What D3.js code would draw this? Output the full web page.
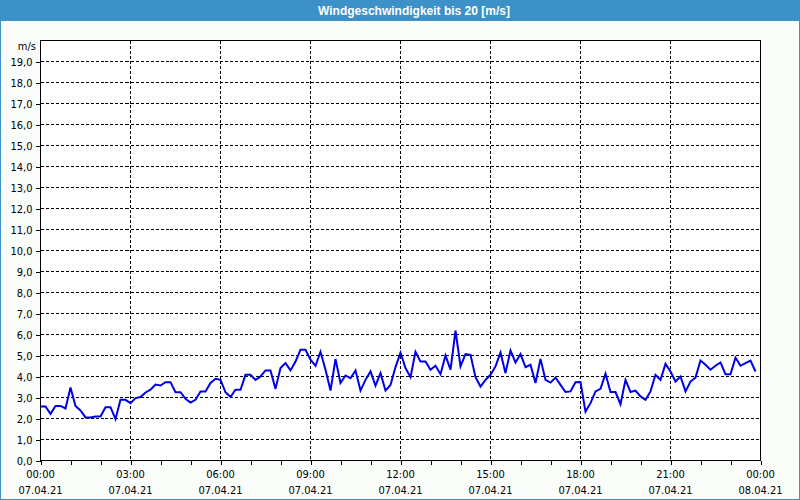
<!DOCTYPE html>
<html>
<head>
<meta charset="utf-8">
<script src="https://cdn.jsdelivr.net/npm/d3@7"></script>
<style>
  html, body { margin: 0; padding: 0; background: #fbfdfb; }
  svg { display: block; }
  text { font-family: "DejaVu Sans Condensed", "DejaVu Sans", sans-serif; font-stretch: condensed; }
  text.title { font-family: "Liberation Sans", Arial, sans-serif; font-stretch: normal; }
</style>
</head>
<body>
<svg id="chart" width="800" height="500"></svg>
<script>
const title = "Windgeschwindigkeit bis 20 [m/s]";
const unitLabel = "m/s";
// 10-minute readings of 07.04.21, starting 00:00
const stepMinutes = 10;
const windSpeed = [
  2.57, 2.57, 2.22, 2.60, 2.60, 2.48, 3.48, 2.60, 2.38, 2.05, 2.05, 2.10,
  2.10, 2.54, 2.54, 1.97, 2.89, 2.89, 2.73, 2.97, 3.02, 3.24, 3.37, 3.62,
  3.57, 3.73, 3.73, 3.25, 3.25, 2.94, 2.76, 2.89, 3.29, 3.29, 3.69, 3.89,
  3.84, 3.25, 3.02, 3.37, 3.37, 4.08, 4.08, 3.84, 4.00, 4.29, 4.29, 3.41,
  4.40, 4.64, 4.29, 4.71, 5.27, 5.27, 4.80, 4.51, 5.18, 4.32, 3.33, 4.83,
  3.69, 4.05, 3.92, 4.29, 3.33, 3.84, 4.24, 3.56, 4.16, 3.33, 3.60, 4.45,
  5.14, 4.40, 3.97, 5.18, 4.71, 4.71, 4.32, 4.51, 4.11, 5.00, 4.32, 6.19,
  4.48, 5.07, 5.03, 3.97, 3.52, 3.84, 4.08, 4.48, 5.14, 4.16, 5.24, 4.67,
  5.07, 4.45, 4.56, 3.69, 4.84, 3.84, 3.71, 3.95, 3.60, 3.26, 3.29, 3.73,
  3.74, 2.33, 2.73, 3.29, 3.41, 4.13, 3.26, 3.26, 2.68, 3.84, 3.26, 3.33,
  3.05, 2.89, 3.29, 4.08, 3.84, 4.60, 4.24, 3.76, 4.00, 3.29, 3.76, 3.95,
  4.76, 4.56, 4.32, 4.51, 4.67, 4.11, 4.11, 4.90, 4.51, 4.64, 4.76, 4.24
];
const xTickHours = [0, 3, 6, 9, 12, 15, 18, 21, 24];
const xTimeLabels = ["00:00", "03:00", "06:00", "09:00", "12:00", "15:00", "18:00", "21:00", "00:00"];
const xDateLabels = ["07.04.21", "07.04.21", "07.04.21", "07.04.21", "07.04.21", "07.04.21", "07.04.21", "07.04.21", "08.04.21"];
const xMinorHours = d3.range(0, 25);
const yTicks = d3.range(0, 20);
const yDomain = [0, 20];

(function () {
const svg = d3.select("#chart");
const W = 800, H = 500;
const pL = 40.5, pR = 760.5, pT = 40.5, pB = 460.5;

// outer frame + title bar
svg.append("rect").attr("x", 0.5).attr("y", 0.5).attr("width", W - 1).attr("height", H - 1)
  .attr("fill", "#fbfdfb").attr("stroke", "#3c91c8").attr("stroke-width", 1);
svg.append("rect").attr("x", 0).attr("y", 0).attr("width", W).attr("height", 21).attr("fill", "#3c91c8");
svg.append("text").attr("class", "title").attr("x", 414).attr("y", 15).attr("text-anchor", "middle")
  .attr("fill", "#ffffff").attr("font-size", "12px").attr("font-weight", "bold").text(title);

const x = d3.scaleLinear().domain([0, 24]).range([pL, pR]);
const y = d3.scaleLinear().domain(yDomain).range([pB, pT]);

svg.append("rect").attr("x", pL).attr("y", pT).attr("width", pR - pL).attr("height", pB - pT)
  .attr("fill", "#ffffff");

// grid
const grid = svg.append("g").attr("stroke", "#000").attr("stroke-dasharray", "3,2")
  .attr("shape-rendering", "crispEdges");
grid.selectAll("line.h").data(yTicks.filter(v => v > 0)).join("line").attr("class", "h")
  .attr("x1", pL).attr("x2", pR).attr("y1", d => y(d)).attr("y2", d => y(d));
grid.selectAll("line.v").data(xTickHours.filter(h => h > 0 && h < 24)).join("line").attr("class", "v")
  .attr("x1", d => x(d)).attr("x2", d => x(d)).attr("y1", pT).attr("y2", pB);

// y axis
const yAxis = d3.axisLeft(y).tickValues(yTicks).tickSize(5).tickPadding(3)
  .tickFormat(d => d3.format(".1f")(d).replace(".", ","));
const gy = svg.append("g").attr("transform", `translate(${pL},0)`).call(yAxis);
gy.select(".domain").remove();
gy.attr("font-family", null).attr("font-size", null);
gy.selectAll("text").attr("font-size", "11px").attr("fill", "#000");
gy.selectAll("line").attr("stroke", "#000").attr("shape-rendering", "crispEdges");

svg.append("text").attr("x", 36).attr("y", 50).attr("text-anchor", "end")
  .attr("font-size", "11px").attr("fill", "#000").text(unitLabel);

// x axis minor ticks
const xAxis = d3.axisBottom(x).tickValues(xMinorHours).tickSize(4).tickFormat("");
const gx = svg.append("g").attr("transform", `translate(0,${pB})`).call(xAxis);
gx.select(".domain").remove();
gx.selectAll("line").attr("stroke", "#000").attr("shape-rendering", "crispEdges");

const labels = svg.append("g").attr("font-size", "11px").attr("fill", "#000").attr("text-anchor", "middle");
labels.selectAll("text.t").data(xTickHours).join("text").attr("class", "t")
  .attr("x", d => x(d)).attr("y", 478).text((d, i) => xTimeLabels[i]);
labels.selectAll("text.d").data(xTickHours).join("text").attr("class", "d")
  .attr("x", d => x(d)).attr("y", 494).text((d, i) => xDateLabels[i]);

// frame
svg.append("rect").attr("x", pL).attr("y", pT).attr("width", pR - pL).attr("height", pB - pT)
  .attr("fill", "none").attr("stroke", "#000").attr("stroke-width", 1).attr("shape-rendering", "crispEdges");

// data line
const line = d3.line()
  .x((d, i) => x(i * stepMinutes / 60))
  .y(d => y(d));
svg.append("path").datum(windSpeed).attr("d", line)
  .attr("fill", "none").attr("stroke", "#0000e6").attr("stroke-width", 2)
  .attr("stroke-linejoin", "miter");
})();
</script>
</body>
</html>
